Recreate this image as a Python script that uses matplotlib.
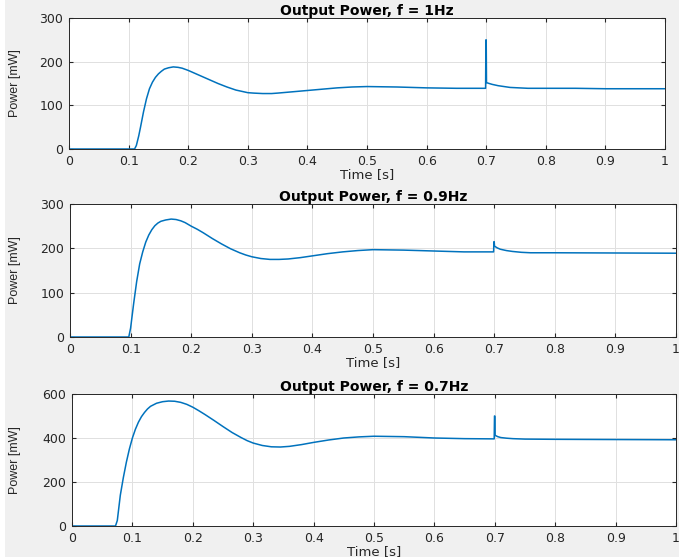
"""Output power step responses for three frequencies (MATLAB-style panels)."""

import matplotlib
matplotlib.use("Agg")
import matplotlib.pyplot as plt

plt.rcParams["font.family"] = ["DejaVu Sans"]

# f = 1 Hz
t_1hz = [0.0, 0.11, 0.113, 0.117, 0.12, 0.125, 0.13, 0.135, 0.14, 0.145, 0.15,
         0.155, 0.16, 0.167, 0.175, 0.183, 0.19, 0.2, 0.21, 0.22, 0.235,
         0.25, 0.265, 0.28, 0.29, 0.3, 0.31, 0.325, 0.34, 0.35, 0.375, 0.4, 0.425,
         0.45, 0.475, 0.5, 0.55, 0.6, 0.65, 0.699,
         0.6995, 0.7, 0.7005, 0.705, 0.71, 0.72, 0.73, 0.74, 0.755, 0.77, 0.8,
         0.85, 0.9, 1.0]
p_1hz = [0, 0, 8, 30, 50, 85, 115, 138, 153, 164, 172,
         178, 183, 186, 188, 187, 185, 180, 174, 168, 159,
         150, 142, 135, 132, 129, 128, 127, 127, 128, 131, 134, 137,
         140, 142, 143, 142, 140, 139, 139,
         250, 250, 152, 150, 148, 145, 143, 141, 140, 139, 139,
         139, 138, 138]

# f = 0.9 Hz
t_09hz = [0.0, 0.097, 0.1, 0.105, 0.11, 0.115, 0.12, 0.125, 0.13, 0.135, 0.14,
          0.145, 0.15, 0.158, 0.167, 0.175, 0.183, 0.19, 0.2, 0.21, 0.22,
          0.235, 0.25, 0.265, 0.28, 0.29, 0.3, 0.315, 0.33, 0.345, 0.36, 0.38,
          0.4, 0.425, 0.45, 0.475, 0.5, 0.55, 0.6, 0.65, 0.699,
          0.6995, 0.7, 0.7005, 0.705, 0.71, 0.72, 0.73, 0.745, 0.76, 0.8, 1.0]
p_09hz = [0, 0, 20, 75, 125, 165, 192, 214, 230, 242, 251,
          257, 261, 264, 266, 265, 262, 258, 250, 243, 235,
          222, 210, 199, 190, 185, 181, 177, 175, 175, 176, 179,
          183, 188, 192, 195, 197, 196, 194, 192, 192,
          215, 215, 205, 201, 198, 195, 193, 191, 190, 190, 189]

# f = 0.7 Hz
t_07hz = [0.0, 0.072, 0.075, 0.08, 0.085, 0.09, 0.095, 0.1, 0.105, 0.11, 0.115,
          0.12, 0.125, 0.13, 0.14, 0.15, 0.16, 0.17, 0.18, 0.19, 0.2, 0.21,
          0.22, 0.235, 0.25, 0.265, 0.28, 0.29, 0.3, 0.315, 0.33, 0.345, 0.36,
          0.38, 0.4, 0.425, 0.45, 0.475, 0.5, 0.55, 0.6, 0.65, 0.699,
          0.6995, 0.7, 0.7005, 0.705, 0.71, 0.72, 0.73, 0.75, 0.8, 0.9, 1.0]
p_07hz = [0, 0, 25, 140, 220, 290, 350, 400, 440, 472, 497,
          516, 532, 544, 558, 565, 568, 567, 562, 553, 540, 524,
          507, 480, 452, 425, 402, 388, 377, 366, 360, 359, 362,
          370, 380, 391, 400, 405, 408, 406, 400, 397, 396,
          500, 500, 412, 406, 402, 399, 397, 395, 394, 393, 392]

panels = [
    ("Output Power, f = 1Hz", t_1hz, p_1hz, [0, 100, 200, 300]),
    ("Output Power, f = 0.9Hz", t_09hz, p_09hz, [0, 100, 200, 300]),
    ("Output Power, f = 0.7Hz", t_07hz, p_07hz, [0, 200, 400, 600]),
]
x_ticks = [0, 0.1, 0.2, 0.3, 0.4, 0.5, 0.6, 0.7, 0.8, 0.9, 1]
x_labels = ["0", "0.1", "0.2", "0.3", "0.4", "0.5", "0.6", "0.7", "0.8", "0.9", "1"]

W, H = 679, 560
# axes boxes in pixels: left, top, right, bottom
boxes = [(69, 18, 665, 149), (70, 204, 676, 337), (72, 394, 676, 526)]

fig = plt.figure(figsize=(W / 100, H / 100), dpi=100, facecolor="white")
fig.patches.append(plt.Rectangle((5 / W, 0.006), 1, 1, transform=fig.transFigure,
                                 facecolor="#f0f0f0", edgecolor="none", zorder=-10))

for (title, t, p, yt), (l, tp, r, b) in zip(panels, boxes):
    ax = fig.add_axes([l / W, 1 - b / H, (r - l) / W, (b - tp) / H])
    ax.plot(t, p, color="#0072BD", linewidth=1.1)
    ax.set_xlim(0, 1)
    ax.set_ylim(yt[0], yt[-1])
    ax.set_xticks(x_ticks)
    ax.set_xticklabels(x_labels)
    ax.set_yticks(yt)
    ax.grid(True, color="#e0e0e0", linewidth=0.7)
    ax.set_axisbelow(True)
    ax.tick_params(direction="in", top=True, right=True, length=3,
                   labelsize=9, colors="#262626", pad=4)
    for s in ax.spines.values():
        s.set_color("#262626")
        s.set_linewidth(0.7)
    ax.set_title(title, fontsize=10, fontweight="bold", pad=2)
    ax.set_xlabel("Time [s]", fontsize=9.5, labelpad=0, color="#262626")
    ax.set_ylabel("Power [mW]", fontsize=9, family="Liberation Sans",
                  color="#262626")
    ax.yaxis.set_label_coords((21 - l) / (r - l), 0.5)

fig.savefig("out.png", dpi=100, facecolor=fig.get_facecolor())
